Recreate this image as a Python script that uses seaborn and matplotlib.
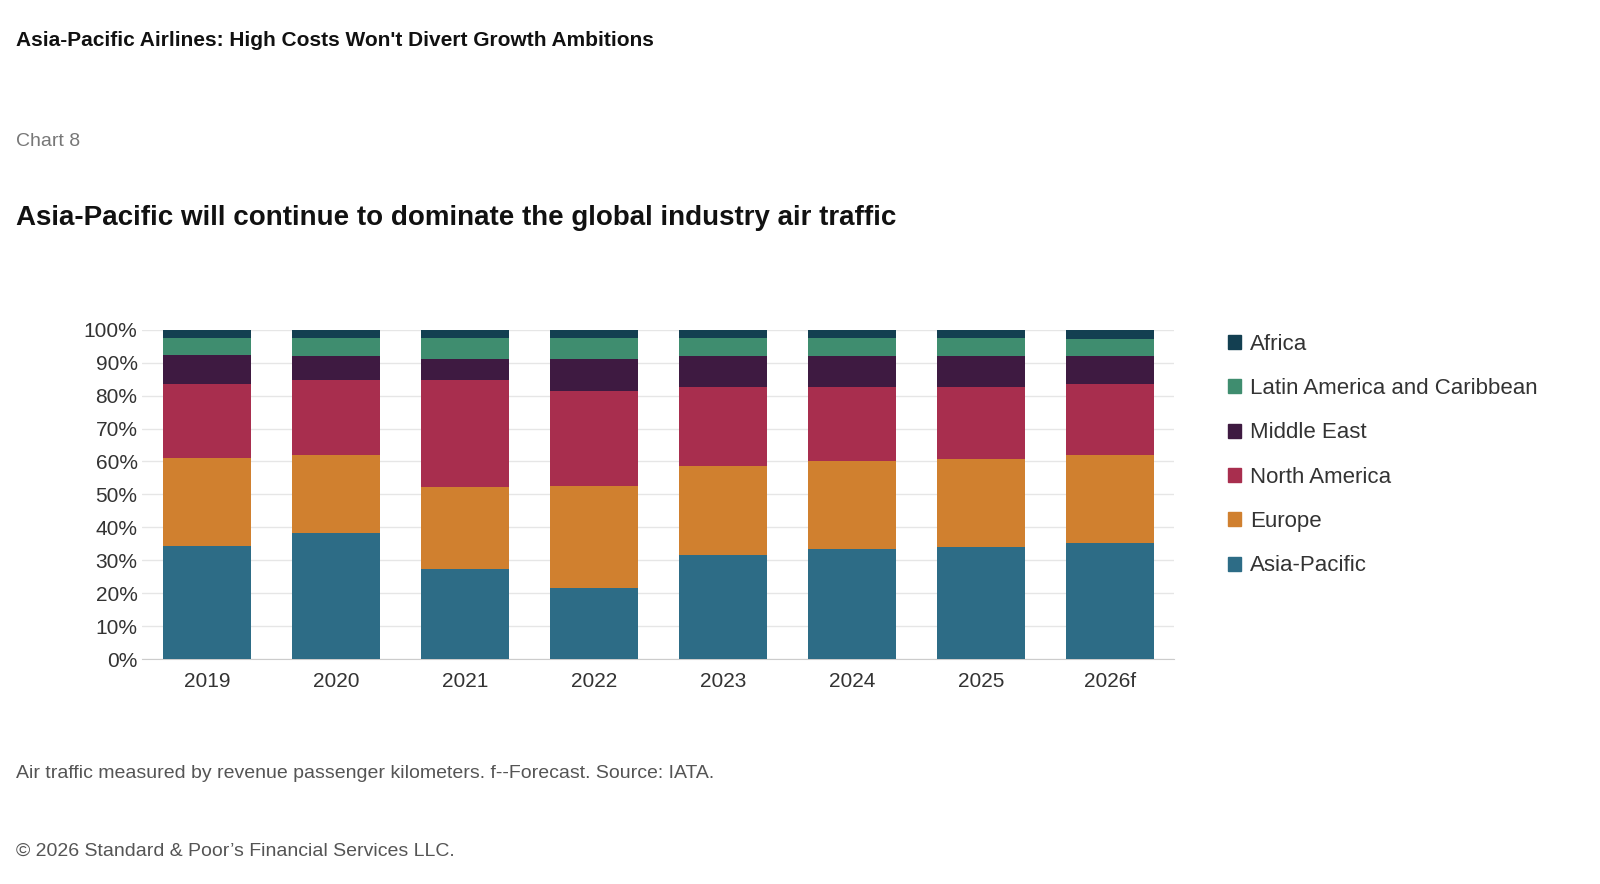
import matplotlib
matplotlib.use("Agg")
import matplotlib.pyplot as plt
import numpy as np
import pandas as pd
import seaborn as sns
from matplotlib.patches import Patch

years = ["2019", "2020", "2021", "2022", "2023", "2024", "2025", "2026f"]
regions = ["Asia-Pacific", "Europe", "North America", "Middle East",
           "Latin America and Caribbean", "Africa"]
colors = ["#2d6c86", "#d0802f", "#a82e4e", "#3e1a41", "#3f8d6f", "#133f51"]

# share of air traffic (%) per region
asia_pacific = [34.3, 38.3, 27.4, 21.6, 31.6, 33.4, 34.0, 35.3]
europe = [26.8, 23.7, 24.9, 31.0, 27.1, 26.8, 26.8, 26.7]
north_america = [22.5, 22.8, 32.5, 28.9, 24.0, 22.5, 21.9, 21.6]
middle_east = [8.8, 7.3, 6.4, 9.7, 9.4, 9.4, 9.4, 8.5]
latin_america = [5.2, 5.5, 6.4, 6.4, 5.5, 5.5, 5.5, 5.2]
africa = [2.4, 2.4, 2.4, 2.4, 2.4, 2.4, 2.4, 2.7]

shares = pd.DataFrame({
    "year": years,
    "Asia-Pacific": asia_pacific,
    "Europe": europe,
    "North America": north_america,
    "Middle East": middle_east,
    "Latin America and Caribbean": latin_america,
    "Africa": africa,
})
cum = shares[regions].cumsum(axis=1)
cum["year"] = years

sns.set_style("white")
plt.rcParams["font.family"] = ["Liberation Sans", "DejaVu Sans"]

fig = plt.figure(figsize=(16, 8.84), dpi=100)
ax = fig.add_axes([0.089, 0.2545, 0.645, 0.3725])

# draw cumulative totals from the top layer down so they stack visually
for reg, col in reversed(list(zip(regions, colors))):
    sns.barplot(data=cum, x="year", y=reg, color=col, width=0.68,
                saturation=1, linewidth=0, ax=ax, zorder=3)

ax.set_ylim(0, 100)
ax.set_yticks(range(0, 101, 10))
ax.set_yticklabels([f"{v}%" for v in range(0, 101, 10)], fontsize=15, color="#333333")
ax.tick_params(axis="x", labelsize=15, colors="#333333", length=6, color="#cccccc")
ax.tick_params(axis="y", length=0)
ax.set_xlabel("")
ax.set_ylabel("")
ax.grid(axis="y", color="#e6e6e6", lw=1, zorder=0)
for s in ["top", "right", "left"]:
    ax.spines[s].set_visible(False)
ax.spines["bottom"].set_color("#cccccc")

handles = [Patch(color=c, label=r) for r, c in zip(regions, colors)][::-1]
fig.legend(handles=handles, loc="upper left", bbox_to_anchor=(0.755, 0.645),
           frameon=False, fontsize=16, handlelength=0.6, handleheight=0.6,
           handletextpad=0.4, labelspacing=1.05, labelcolor="#333333")

fig.text(0.01, 0.948, "Asia-Pacific Airlines: High Costs Won't Divert Growth Ambitions",
         fontsize=15, fontweight="bold", color="#111111")
fig.text(0.01, 0.835, "Chart 8", fontsize=14, color="#777777")
fig.text(0.01, 0.745, "Asia-Pacific will continue to dominate the global industry air traffic",
         fontsize=20, fontweight="bold", color="#111111")
fig.text(0.01, 0.12, "Air traffic measured by revenue passenger kilometers. f--Forecast. Source: IATA.",
         fontsize=14, color="#555555")
fig.text(0.01, 0.032, "\u00a9 2026 Standard & Poor\u2019s Financial Services LLC.",
         fontsize=14, color="#555555")

fig.savefig("out.png", dpi=100)
